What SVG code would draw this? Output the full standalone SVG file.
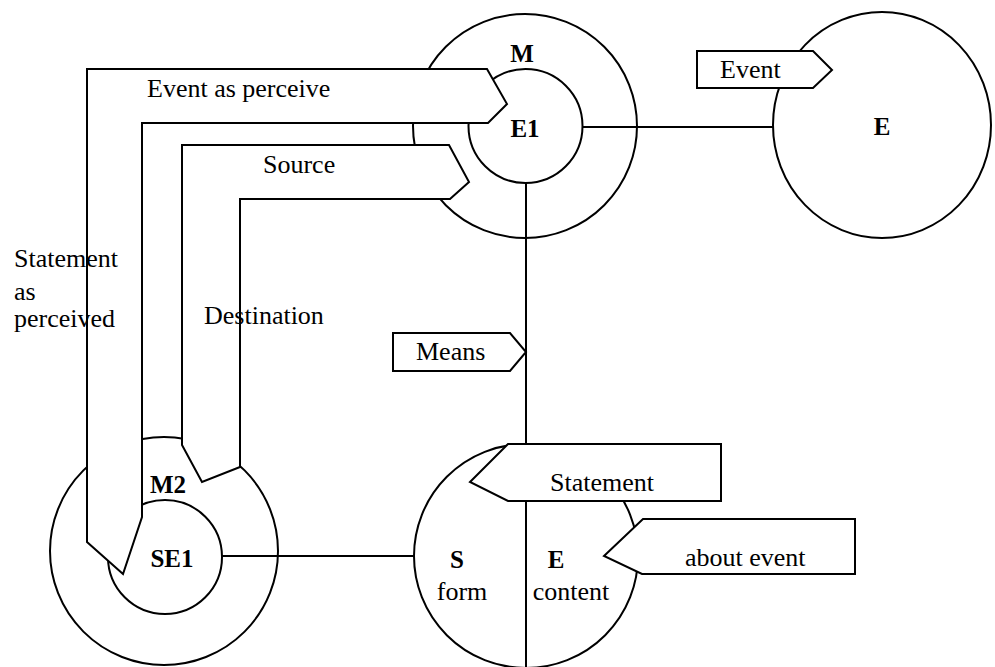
<svg xmlns="http://www.w3.org/2000/svg" width="995" height="667" viewBox="0 0 995 667">
<style>
.c{fill:none;stroke:#000;stroke-width:2}
.ln{fill:none;stroke:#000;stroke-width:2}
.ar{fill:#fff;stroke:#000;stroke-width:2;stroke-linejoin:miter}
.t{font-family:"Liberation Serif","Times New Roman",serif;font-size:26px;fill:#000}
.b{font-family:"Liberation Serif","Times New Roman",serif;font-size:25px;font-weight:bold;fill:#000}
.m{text-anchor:middle}
</style>
<rect width="995" height="667" fill="#fff"/>
<g id="connectors">
<line class="ln" x1="582" y1="127" x2="773" y2="127"/>
<line class="ln" x1="526" y1="183" x2="526" y2="667"/>
<line class="ln" x1="222" y1="556" x2="414" y2="556"/>
</g>
<g id="node-M">
<circle class="c" cx="525" cy="126" r="112"/>
<circle class="c" cx="525.5" cy="126" r="57"/>
</g>
<g id="node-E">
<ellipse class="c" cx="882" cy="125" rx="109" ry="113"/>
</g>
<g id="node-M2">
<circle class="c" cx="164" cy="551" r="114"/>
<circle class="c" cx="165" cy="557" r="57"/>
</g>
<g id="node-SE">
<circle class="c" cx="526" cy="556" r="112"/>
</g>
<g id="arrow-event-as-perceive">
<path class="ar" d="M87,69 L487,69 L507,104 L488,123 L142,123 L142,517 L123,574 L87,542 Z"/>
</g>
<g id="arrow-source">
<path class="ar" d="M182,145 L449,145 L469,182 L450,199 L240,199 L240,467 L202,482 L182,445 Z"/>
</g>
<g id="arrow-event">
<path class="ar" d="M697,51 L813,51 L832,70 L813,88 L697,88 Z"/>
<text class="t" x="720" y="78">Event</text>
</g>
<g id="arrow-means">
<path class="ar" d="M393,333 L510,333 L526,352 L510,371 L393,371 Z"/>
<text class="t" x="416" y="360">Means</text>
</g>
<g id="arrow-statement">
<path class="ar" d="M721,444 L508,444 L470,482 L508,501 L721,501 Z"/>
<text class="t" x="550" y="491">Statement</text>
</g>
<g id="arrow-about-event">
<path class="ar" d="M855,519 L643,519 L604,556 L642,574 L855,574 Z"/>
<text class="t" x="685" y="566">about event</text>
</g>
<g id="labels">
<text class="t" x="147" y="97">Event as perceive</text>
<text class="t" x="263" y="173">Source</text>
<text class="t" x="14" y="267">Statement</text>
<text class="t" x="14" y="300">as</text>
<text class="t" x="14" y="327">perceived</text>
<text class="t" x="204" y="324">Destination</text>
<text class="b m" x="522" y="62">M</text>
<text class="b m" x="525" y="137">E1</text>
<text class="b m" x="882" y="135">E</text>
<text class="b m" x="168" y="493">M2</text>
<text class="b m" x="172" y="567">SE1</text>
<text class="b m" x="457" y="568">S</text>
<text class="t m" x="462" y="600">form</text>
<text class="b m" x="556" y="568">E</text>
<text class="t m" x="571" y="600">content</text>
</g>
</svg>
